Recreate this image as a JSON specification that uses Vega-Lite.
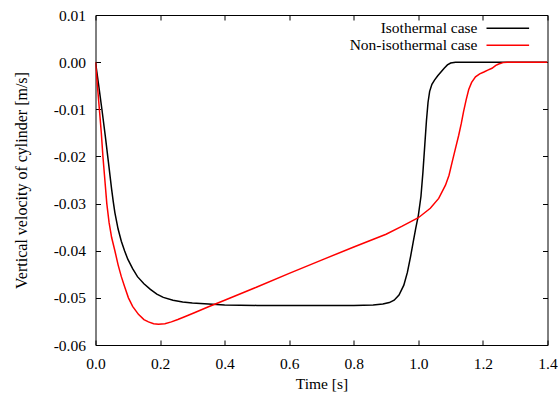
{
  "$schema": "https://vega.github.io/schema/vega-lite/v6.json",
  "width": 452,
  "height": 330,
  "autosize": {"type": "none"},
  "padding": {"left": 95.5, "top": 15, "right": 12.5, "bottom": 49},
  "background": "white",
  "config": {
    "view": {"stroke": "#000000", "strokeWidth": 1},
    "axis": {
      "domain": false,
      "grid": false,
      "tickColor": "#000000",
      "tickWidth": 1,
      "tickSize": -5,
      "labelFlush": false,
      "labelColor": "#000000",
      "titleFontWeight": "normal",
      "titleColor": "#000000"
    },
    "legend": {
      "labelFont": "Liberation Serif",
      "labelFontSize": 15.5,
      "labelColor": "#000000"
    }
  },
  "data": {
    "values": [
      {"time": 0, "velocity": 0, "case": "Isothermal case"},
      {"time": 0.01, "velocity": -0.005, "case": "Isothermal case"},
      {"time": 0.02, "velocity": -0.0101, "case": "Isothermal case"},
      {"time": 0.03, "velocity": -0.0155, "case": "Isothermal case"},
      {"time": 0.04, "velocity": -0.0212, "case": "Isothermal case"},
      {"time": 0.05, "velocity": -0.027, "case": "Isothermal case"},
      {"time": 0.055, "velocity": -0.0296, "case": "Isothermal case"},
      {"time": 0.06, "velocity": -0.0319, "case": "Isothermal case"},
      {"time": 0.07, "velocity": -0.0354, "case": "Isothermal case"},
      {"time": 0.08, "velocity": -0.038, "case": "Isothermal case"},
      {"time": 0.09, "velocity": -0.04, "case": "Isothermal case"},
      {"time": 0.1, "velocity": -0.0418, "case": "Isothermal case"},
      {"time": 0.115, "velocity": -0.0438, "case": "Isothermal case"},
      {"time": 0.13, "velocity": -0.0455, "case": "Isothermal case"},
      {"time": 0.15, "velocity": -0.047, "case": "Isothermal case"},
      {"time": 0.17, "velocity": -0.0482, "case": "Isothermal case"},
      {"time": 0.19, "velocity": -0.0492, "case": "Isothermal case"},
      {"time": 0.21, "velocity": -0.0499, "case": "Isothermal case"},
      {"time": 0.24, "velocity": -0.0505, "case": "Isothermal case"},
      {"time": 0.27, "velocity": -0.0509, "case": "Isothermal case"},
      {"time": 0.3, "velocity": -0.0511, "case": "Isothermal case"},
      {"time": 0.35, "velocity": -0.0513, "case": "Isothermal case"},
      {"time": 0.4, "velocity": -0.0515, "case": "Isothermal case"},
      {"time": 0.5, "velocity": -0.0516, "case": "Isothermal case"},
      {"time": 0.6, "velocity": -0.0516, "case": "Isothermal case"},
      {"time": 0.7, "velocity": -0.0516, "case": "Isothermal case"},
      {"time": 0.8, "velocity": -0.0516, "case": "Isothermal case"},
      {"time": 0.86, "velocity": -0.0515, "case": "Isothermal case"},
      {"time": 0.89, "velocity": -0.0513, "case": "Isothermal case"},
      {"time": 0.91, "velocity": -0.051, "case": "Isothermal case"},
      {"time": 0.925, "velocity": -0.0505, "case": "Isothermal case"},
      {"time": 0.94, "velocity": -0.0494, "case": "Isothermal case"},
      {"time": 0.955, "velocity": -0.0473, "case": "Isothermal case"},
      {"time": 0.966, "velocity": -0.0446, "case": "Isothermal case"},
      {"time": 0.976, "velocity": -0.0412, "case": "Isothermal case"},
      {"time": 0.984, "velocity": -0.0382, "case": "Isothermal case"},
      {"time": 0.992, "velocity": -0.0352, "case": "Isothermal case"},
      {"time": 1.0, "velocity": -0.0325, "case": "Isothermal case"},
      {"time": 1.008, "velocity": -0.0285, "case": "Isothermal case"},
      {"time": 1.014, "velocity": -0.0235, "case": "Isothermal case"},
      {"time": 1.02, "velocity": -0.0175, "case": "Isothermal case"},
      {"time": 1.025, "velocity": -0.0125, "case": "Isothermal case"},
      {"time": 1.03, "velocity": -0.0085, "case": "Isothermal case"},
      {"time": 1.035, "velocity": -0.0062, "case": "Isothermal case"},
      {"time": 1.042, "velocity": -0.0047, "case": "Isothermal case"},
      {"time": 1.05, "velocity": -0.0038, "case": "Isothermal case"},
      {"time": 1.06, "velocity": -0.0029, "case": "Isothermal case"},
      {"time": 1.07, "velocity": -0.0021, "case": "Isothermal case"},
      {"time": 1.08, "velocity": -0.0013, "case": "Isothermal case"},
      {"time": 1.09, "velocity": -0.0006, "case": "Isothermal case"},
      {"time": 1.1, "velocity": -0.0002, "case": "Isothermal case"},
      {"time": 1.115, "velocity": 0, "case": "Isothermal case"},
      {"time": 1.4, "velocity": 0, "case": "Isothermal case"},
      {"time": 0, "velocity": 0, "case": "Non-isothermal case"},
      {"time": 0.005, "velocity": -0.0042, "case": "Non-isothermal case"},
      {"time": 0.012, "velocity": -0.01, "case": "Non-isothermal case"},
      {"time": 0.018, "velocity": -0.015, "case": "Non-isothermal case"},
      {"time": 0.023, "velocity": -0.02, "case": "Non-isothermal case"},
      {"time": 0.029, "velocity": -0.025, "case": "Non-isothermal case"},
      {"time": 0.035, "velocity": -0.03, "case": "Non-isothermal case"},
      {"time": 0.042, "velocity": -0.034, "case": "Non-isothermal case"},
      {"time": 0.05, "velocity": -0.0372, "case": "Non-isothermal case"},
      {"time": 0.06, "velocity": -0.04, "case": "Non-isothermal case"},
      {"time": 0.07, "velocity": -0.043, "case": "Non-isothermal case"},
      {"time": 0.08, "velocity": -0.0455, "case": "Non-isothermal case"},
      {"time": 0.09, "velocity": -0.0476, "case": "Non-isothermal case"},
      {"time": 0.102, "velocity": -0.05, "case": "Non-isothermal case"},
      {"time": 0.115, "velocity": -0.0518, "case": "Non-isothermal case"},
      {"time": 0.133, "velocity": -0.0535, "case": "Non-isothermal case"},
      {"time": 0.15, "velocity": -0.0546, "case": "Non-isothermal case"},
      {"time": 0.164, "velocity": -0.0551, "case": "Non-isothermal case"},
      {"time": 0.18, "velocity": -0.0555, "case": "Non-isothermal case"},
      {"time": 0.195, "velocity": -0.0556, "case": "Non-isothermal case"},
      {"time": 0.215, "velocity": -0.0555, "case": "Non-isothermal case"},
      {"time": 0.235, "velocity": -0.0551, "case": "Non-isothermal case"},
      {"time": 0.255, "velocity": -0.0546, "case": "Non-isothermal case"},
      {"time": 0.28, "velocity": -0.0539, "case": "Non-isothermal case"},
      {"time": 0.308, "velocity": -0.0531, "case": "Non-isothermal case"},
      {"time": 0.35, "velocity": -0.0519, "case": "Non-isothermal case"},
      {"time": 0.4, "velocity": -0.0505, "case": "Non-isothermal case"},
      {"time": 0.5, "velocity": -0.0477, "case": "Non-isothermal case"},
      {"time": 0.6, "velocity": -0.0448, "case": "Non-isothermal case"},
      {"time": 0.7, "velocity": -0.042, "case": "Non-isothermal case"},
      {"time": 0.8, "velocity": -0.0392, "case": "Non-isothermal case"},
      {"time": 0.9, "velocity": -0.0365, "case": "Non-isothermal case"},
      {"time": 0.95, "velocity": -0.0348, "case": "Non-isothermal case"},
      {"time": 1.0, "velocity": -0.033, "case": "Non-isothermal case"},
      {"time": 1.037, "velocity": -0.031, "case": "Non-isothermal case"},
      {"time": 1.063, "velocity": -0.0289, "case": "Non-isothermal case"},
      {"time": 1.084, "velocity": -0.0261, "case": "Non-isothermal case"},
      {"time": 1.095, "velocity": -0.024, "case": "Non-isothermal case"},
      {"time": 1.105, "velocity": -0.0211, "case": "Non-isothermal case"},
      {"time": 1.115, "velocity": -0.0183, "case": "Non-isothermal case"},
      {"time": 1.125, "velocity": -0.0155, "case": "Non-isothermal case"},
      {"time": 1.133, "velocity": -0.013, "case": "Non-isothermal case"},
      {"time": 1.14, "velocity": -0.0105, "case": "Non-isothermal case"},
      {"time": 1.148, "velocity": -0.008, "case": "Non-isothermal case"},
      {"time": 1.156, "velocity": -0.0058, "case": "Non-isothermal case"},
      {"time": 1.165, "velocity": -0.0043, "case": "Non-isothermal case"},
      {"time": 1.177, "velocity": -0.0031, "case": "Non-isothermal case"},
      {"time": 1.19, "velocity": -0.0025, "case": "Non-isothermal case"},
      {"time": 1.203, "velocity": -0.0021, "case": "Non-isothermal case"},
      {"time": 1.215, "velocity": -0.0017, "case": "Non-isothermal case"},
      {"time": 1.228, "velocity": -0.0013, "case": "Non-isothermal case"},
      {"time": 1.24, "velocity": -0.0007, "case": "Non-isothermal case"},
      {"time": 1.249, "velocity": -0.0004, "case": "Non-isothermal case"},
      {"time": 1.262, "velocity": -0.0001, "case": "Non-isothermal case"},
      {"time": 1.275, "velocity": 0, "case": "Non-isothermal case"},
      {"time": 1.4, "velocity": 0, "case": "Non-isothermal case"}
    ]
  },
  "layer": [
    {
      "mark": {"type": "line", "strokeWidth": 1.5, "clip": true},
      "encoding": {
        "x": {
          "field": "time", "type": "quantitative",
          "scale": {"domain": [0, 1.4], "nice": false, "zero": false},
          "axis": {
            "orient": "bottom",
            "title": "Time [s]",
            "values": [0, 0.2, 0.4, 0.6, 0.8, 1.0, 1.2, 1.4],
            "format": ".1f",
            "labelFont": "Liberation Serif",
            "titleFont": "Liberation Serif",
            "labelFontSize": 15.5,
            "titleFontSize": 15.5,
            "labelPadding": 16,
            "titlePadding": 5
          }
        },
        "y": {
          "field": "velocity", "type": "quantitative",
          "scale": {"domain": [-0.06, 0.01], "nice": false, "zero": false},
          "axis": {
            "orient": "left",
            "title": "Vertical velocity of cylinder [m/s]",
            "values": [-0.06, -0.05, -0.04, -0.03, -0.02, -0.01, 0, 0.01],
            "labelExpr": "replace(format(datum.value, '.2f'), '\u2212', '-')",
            "labelFont": "Liberation Serif",
            "titleFont": "Liberation Serif",
            "labelFontSize": 15.5,
            "titleFontSize": 16,
            "labelPadding": 15,
            "titlePadding": 24
          }
        },
        "color": {
          "field": "case", "type": "nominal",
          "scale": {"domain": ["Isothermal case", "Non-isothermal case"], "range": ["#000000", "#ff0000"]},
          "legend": {
            "title": null,
            "orient": "none",
            "legendX": 251,
            "legendY": 4.8,
            "padding": 0,
            "symbolType": "M-2.84,0H2.84",
            "symbolSize": 225,
            "symbolStrokeWidth": 1.5,
            "labelAlign": "right",
            "labelOffset": -38.8,
            "symbolOffset": 152.8,
            "rowPadding": 0,
            "labelLimit": 300
          }
        }
      }
    },
    {
      "mark": {"type": "point", "opacity": 0},
      "encoding": {
        "x": {
          "field": "time", "type": "quantitative",
          "axis": {"orient": "top", "title": null, "labels": false, "values": [0, 0.2, 0.4, 0.6, 0.8, 1.0, 1.2, 1.4]}
        },
        "y": {
          "field": "velocity", "type": "quantitative",
          "axis": {"orient": "right", "title": null, "labels": false, "values": [-0.06, -0.05, -0.04, -0.03, -0.02, -0.01, 0, 0.01]}
        }
      }
    }
  ],
  "resolve": {"axis": {"x": "independent", "y": "independent"}}
}
